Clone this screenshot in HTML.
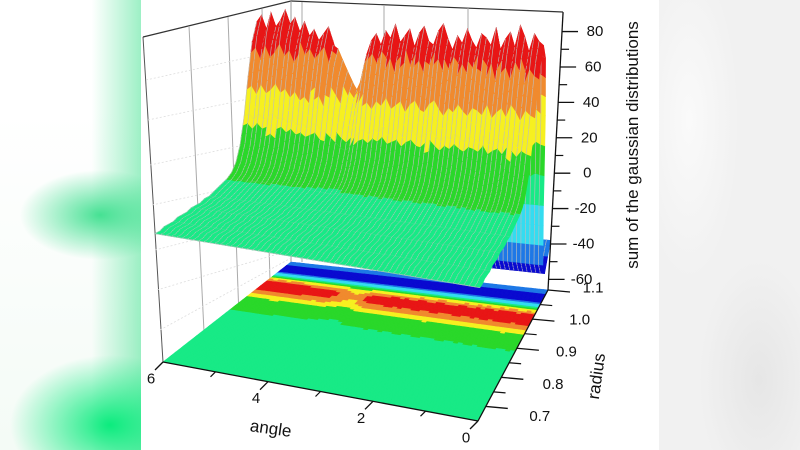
<!DOCTYPE html>
<html><head><meta charset="utf-8">
<style>
html,body{margin:0;padding:0;width:800px;height:450px;overflow:hidden;background:#fff;}
#bgL{position:absolute;left:0;top:0;width:141px;height:450px;
background:
radial-gradient(ellipse 80px 45px at 100px 215px, rgba(40,220,130,0.85), rgba(40,220,130,0) 100%),
radial-gradient(ellipse 100px 70px at 110px 425px, rgba(0,235,120,0.95), rgba(0,235,120,0) 100%),
linear-gradient(90deg, rgba(255,255,255,0) 65%, rgba(60,225,140,0.5) 100%),
linear-gradient(180deg,#fff 0%,#fff 25%,#f4fbf6 100%);}
#bgR{position:absolute;left:659px;top:0;width:141px;height:450px;
background:radial-gradient(ellipse 50px 160px at 30px 120px,#fafafa,rgba(250,250,250,0) 100%),
radial-gradient(ellipse 60px 120px at 100px 380px,#e6e6e6,rgba(230,230,230,0) 100%),#f1f1f1;}
svg{position:absolute;left:0;top:0;}
text{font-family:"Liberation Sans",sans-serif;fill:#111;}
</style></head><body>
<div id="bgL"></div>
<div id="bgR"></div>
<svg id="chart" width="800" height="450">
 <g id="walls">
  <line x1="143" y1="37" x2="163" y2="362" stroke="#555" stroke-width="1"/>
  <line x1="143" y1="37" x2="291" y2="1" stroke="#333" stroke-width="1.2"/>
  <line x1="291" y1="1" x2="563" y2="12" stroke="#333" stroke-width="1.2"/>
  <line x1="291" y1="1" x2="291" y2="262" stroke="#999" stroke-width="1"/>
  <line x1="189" y1="26" x2="205" y2="352" stroke="#aaa" stroke-width="1"/>
  <line x1="228" y1="17" x2="240" y2="344" stroke="#aaa" stroke-width="1"/>
  <line x1="262" y1="9" x2="270" y2="280" stroke="#aaa" stroke-width="1"/>
  <line x1="302" y1="2" x2="302" y2="262" stroke="#aaa" stroke-width="1"/>
  <line x1="384" y1="5" x2="384" y2="268" stroke="#aaa" stroke-width="1"/>
  <line x1="468" y1="8" x2="468" y2="276" stroke="#aaa" stroke-width="1"/>
  <g stroke="#ddd" stroke-width="0.8" stroke-dasharray="2 2">
   <line x1="146" y1="80" x2="291" y2="48"/><line x1="148" y1="120" x2="291" y2="90"/>
   <line x1="150" y1="165" x2="291" y2="135"/><line x1="152" y1="205" x2="291" y2="175"/>
   <line x1="155" y1="250" x2="291" y2="215"/><line x1="157" y1="290" x2="291" y2="250"/>
   <line x1="160" y1="330" x2="291" y2="258"/>
  </g>
 </g>
 <g id="floor"></g>
 <g id="surface"></g>
 <g id="axes"></g>
 <text x="638" y="145" font-size="17" text-anchor="middle" transform="rotate(-90 638 145)">sum of the gaussian distributions</text>
 <text x="602" y="377" font-size="17" text-anchor="middle" transform="rotate(-82 602 377)">radius</text>
 <text x="270" y="434" font-size="17" text-anchor="middle" transform="rotate(8 270 434)">angle</text>
</svg>
<script>
// peak height per angle column, angle 6 -> 0 step 0.1
const peaks = [84,88,80,90,82,86,92,84,88,80,86,
 78,82,76,80,84,74,72,66,60,54,
 50,56,70,78,
 82,76,84,80,88,78,82,86,76,84,88,80,78,86,90,82,76,84,80,88,82,78,86,84,80,90,78,84,88,80,92,86,78,88,84,82];
// radial profile (nominal column, peak 80), radius 0.65 -> 1.1 step 0.015
const profile = [-4,-4,-3,-3,-3,-2,-2,-2,-1,-1,-1,0,0,1,2,3,4,6,10,18,32,52,70,80,72,40,-10,-45,-52,-45,-38];
const zTicks = [-60,-40,-20,0,20,40,60,80];
const zMinor = [-50,-30,-10,10,30,50,70];
const rTicks = [0.7,0.8,0.9,1.0,1.1];
const rMinor = [0.75,0.85,0.95,1.05];
const aTicks = [0,2,4,6];
const aMinor = [1,3,5];
const levels = [-45,-30,-12,4,27,48,69];
const colors = ['#0a0ad0','#1e78e6','#34dcf0','#18ea86','#2ad82a','#f6f020','#f08a2e','#e81616'];

const NS='http://www.w3.org/2000/svg';
const ZMIN=-66, SUB=3;
const FL=[[163,362],[478,421],[548,290],[291,262]];
const VV=[[-0.127,-2.07],[0.03,-2.15],[0.096,-1.77],[0,-1.66]];
function bil(Q,s,t){return [(1-s)*(1-t)*Q[0][0]+s*(1-t)*Q[1][0]+s*t*Q[2][0]+(1-s)*t*Q[3][0],
 (1-s)*(1-t)*Q[0][1]+s*(1-t)*Q[1][1]+s*t*Q[2][1]+(1-s)*t*Q[3][1]];}
function P(a,r,z){const s=(6-a)/6,t=(r-0.65)/0.45;const f=bil(FL,s,t),v=bil(VV,s,t),h=z-ZMIN;return [f[0]+v[0]*h,f[1]+v[1]*h];}
function col(z){let k=0;while(k<levels.length&&z>=levels[k])k++;return colors[k];}
function zAt(i,j){const p=profile[j];return p>0?p*peaks[i]/80:p;}
function zF(i,jf){const j0=Math.min(Math.floor(jf),profile.length-2),f=jf-j0;return zAt(i,j0)*(1-f)+zAt(i,j0+1)*f;}
function pt(p){return p[0].toFixed(1)+','+p[1].toFixed(1);}
const nA=peaks.length, nR=profile.length;
const ang=i=>6-6*i/(nA-1), rad=jf=>0.65+0.45*jf/(nR-1);
const floorG=document.getElementById('floor'), surfG=document.getElementById('surface'), axG=document.getElementById('axes');
const steps=(nR-1)*SUB;
for(let k=steps-1;k>=0;k--){const j0=k/SUB,j1=(k+1)/SUB;for(let i=0;i<nA-1;i++){
 const z=(zF(i,j0)+zF(i+1,j0)+zF(i,j1)+zF(i+1,j1))/4;const c=col(z);
 const poly=document.createElementNS(NS,'polygon');
 poly.setAttribute('points',[P(ang(i),rad(j0),ZMIN),P(ang(i+1),rad(j0),ZMIN),P(ang(i+1),rad(j1),ZMIN),P(ang(i),rad(j1),ZMIN)].map(pt).join(' '));
 poly.setAttribute('fill',c);poly.setAttribute('stroke',c);poly.setAttribute('stroke-width','0.6');
 
 
 floorG.appendChild(poly);}}
for(let k=steps-1;k>=0;k--){const j0=k/SUB,j1=(k+1)/SUB;for(let i=0;i<nA-1;i++){
 const z=(zF(i,j0)+zF(i+1,j0)+zF(i,j1)+zF(i+1,j1))/4;const c=col(z);
 const p00=P(ang(i),rad(j0),zF(i,j0)),p10=P(ang(i+1),rad(j0),zF(i+1,j0)),p11=P(ang(i+1),rad(j1),zF(i+1,j1)),p01=P(ang(i),rad(j1),zF(i,j1));
 const poly=document.createElementNS(NS,'polygon');
 poly.setAttribute('points',[p00,p10,p11,p01].map(pt).join(' '));
 poly.setAttribute('fill',c);poly.setAttribute('stroke',c);poly.setAttribute('stroke-width','0.6');
 
 
 surfG.appendChild(poly);
 const ln=document.createElementNS(NS,'path');
 ln.setAttribute('d','M'+pt(p00)+'L'+pt(p01)+(k%12==0?'M'+pt(p00)+'L'+pt(p10):''));
 ln.setAttribute('stroke','rgba(190,190,190,0.9)');ln.setAttribute('stroke-width','0.7');ln.setAttribute('fill','none');
 
 
 surfG.appendChild(ln);}}
function line(p,q,w,name){const l=document.createElementNS(NS,'line');l.setAttribute('x1',p[0]);l.setAttribute('y1',p[1]);l.setAttribute('x2',q[0]);l.setAttribute('y2',q[1]);l.setAttribute('stroke','#111');l.setAttribute('stroke-width',w);
 
 
 axG.appendChild(l);}
function txt(x,y,s,name){const t=document.createElementNS(NS,'text');t.setAttribute('x',x);t.setAttribute('y',y);t.setAttribute('font-size','15');t.setAttribute('text-anchor','middle');t.setAttribute('dominant-baseline','central');t.textContent=s;
 
 
 axG.appendChild(t);}
line(P(0,1.1,ZMIN),P(0,1.1,91),1.3,'z-axis-line');
zTicks.forEach(z=>{const p=P(0,1.1,z);line(p,[p[0]+16,p[1]],1.3,'z-major-tick');txt(p[0]+33,p[1],String(z),'z-tick-label');});
zMinor.forEach(z=>{const p=P(0,1.1,z);line(p,[p[0]+8,p[1]],1.2,'z-minor-tick');});
line(P(0,0.65,ZMIN),P(0,1.1,ZMIN),1.3,'radius-axis-line');
rTicks.forEach(r=>{const p=P(0,r,ZMIN);line(p,[p[0]+22,p[1]+2],1.3,'radius-major-tick');const f=(r-0.7)/0.4;txt(p[0]+54-9*f,p[1]+10-12*f,r.toFixed(1),'radius-tick-label');});
rMinor.forEach(r=>{const p=P(0,r,ZMIN);line(p,[p[0]+12,p[1]+1],1.2,'radius-minor-tick');});
line(P(6,0.65,ZMIN),P(0,0.65,ZMIN),1.3,'angle-axis-line');
aTicks.forEach(a=>{const p=P(a,0.65,ZMIN);line(p,[p[0]-8,p[1]+8],1.3,'angle-major-tick');txt(p[0]-12,p[1]+17,String(a),'angle-tick-label');});
aMinor.forEach(a=>{const p=P(a,0.65,ZMIN);line(p,[p[0]-5,p[1]+5],1.2,'angle-minor-tick');});
</script>
</body></html>
